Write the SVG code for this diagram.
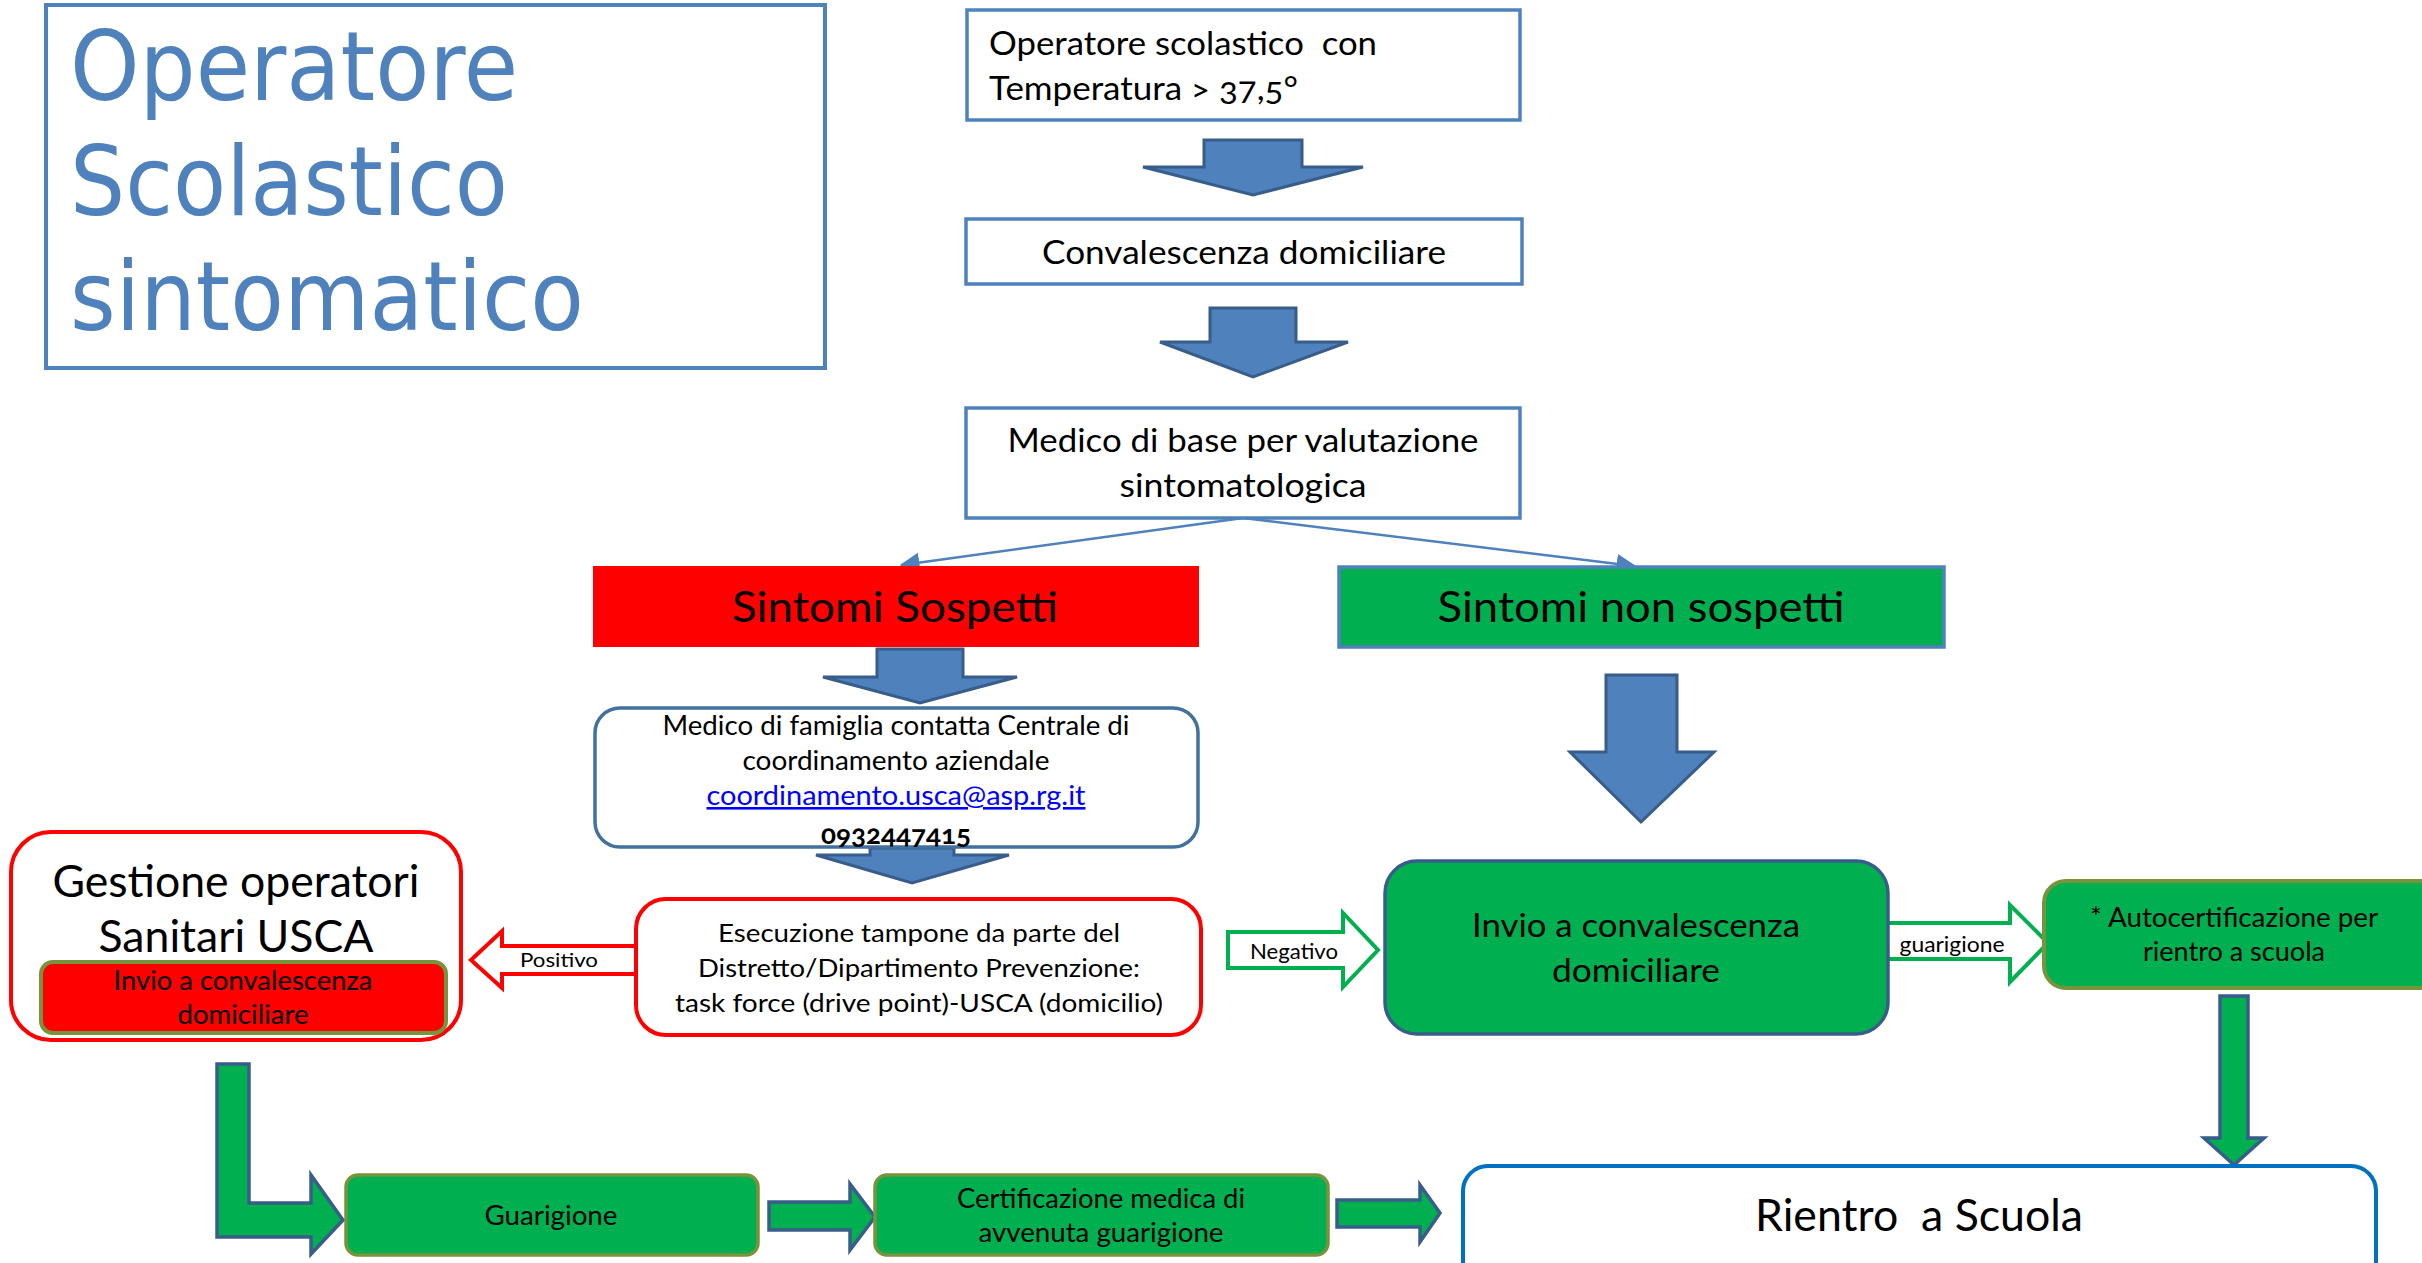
<svg xmlns="http://www.w3.org/2000/svg" width="2422" height="1263" viewBox="0 0 2422 1263">
<style>
.t{font-family:Lato,"Liberation Sans",sans-serif;fill:#000;text-anchor:middle;white-space:pre}
.ts{text-anchor:start}
.title{font-family:"DejaVu Sans",sans-serif;fill:#4f81bd;font-size:96px}
.boxb{fill:#fff;stroke:#4f81bd;stroke-width:3.5}
.barrow{fill:#4f81bd;stroke:#385d8a;stroke-width:3;stroke-linejoin:miter}
.garrow{fill:#00b050;stroke:#385d8a;stroke-width:3.5;stroke-linejoin:miter}
.link{stroke:#4f81bd;stroke-width:2.5;fill:none}
</style>
<defs>
<marker id="ah" markerWidth="8" markerHeight="8" refX="7" refY="4" orient="auto" markerUnits="strokeWidth">
<path d="M0,0 L8,4 L0,8 z" fill="#4f81bd"/>
</marker>
</defs>
<rect width="2422" height="1263" fill="#fff"/>

<g id="connectors">
<line class="link" x1="1243" y1="518" x2="902" y2="565" marker-end="url(#ah)"/>
<line class="link" x1="1243" y1="518" x2="1634" y2="566" marker-end="url(#ah)"/>
<path class="barrow" d="M1204,140 H1302 V167 H1363 L1253,195 L1143,167 H1204 Z"/>
<path class="barrow" d="M1210,308 H1296 V342 H1348 L1253,377 L1160,342 H1210 Z"/>
<path class="barrow" d="M877,649 H963 V677 H1017 L920,703 L823,677 H877 Z"/>
<path class="barrow" d="M870,848 H954 V855 H1009 L912,883 L816,855 H870 Z"/>
<path class="barrow" d="M1606,675 H1677 V752 H1714 L1641,822 L1570,752 H1606 Z"/>
<path class="garrow" d="M2220,996 H2248 V1138 H2264 L2234,1165 L2204,1138 H2220 Z"/>
<path class="garrow" d="M217,1064 H249 V1203 H311 V1175 L343,1220 L311,1254 V1237 H217 Z"/>
<path class="garrow" d="M769,1202 H850 V1184 L875,1217 L850,1250 V1230 H769 Z"/>
<path class="garrow" d="M1337,1200 H1420 V1185 L1440,1213 L1420,1242 V1227 H1337 Z"/>
<g id="positivo">
<path d="M636,946 H502 V931 L471,960 L502,988 V974 H636 Z" fill="#fff" stroke="#ff0000" stroke-width="4"/>
<text class="t" x="559" y="967" font-size="19" textLength="78" lengthAdjust="spacingAndGlyphs">Positivo</text>
</g>
<g id="negativo">
<path d="M1228,932 H1343 V913 L1378,950 L1343,987 V968 H1228 Z" fill="#fff" stroke="#00b050" stroke-width="4"/>
<text class="t" x="1294" y="959" font-size="22" textLength="88" lengthAdjust="spacingAndGlyphs">Negativo</text>
</g>
<g id="guarigione-arrow">
<path d="M1878,923 H2010 V905 L2048,943 L2010,982 V959 H1878 Z" fill="#fff" stroke="#00b050" stroke-width="4"/>
<text class="t" x="1952" y="952" font-size="21" textLength="105" lengthAdjust="spacingAndGlyphs">guarigione</text>
</g>
</g>

<g id="title">
<rect x="46" y="5" width="779" height="363" fill="#fff" stroke="#4f81bd" stroke-width="4"/>
<text class="title" x="70" y="100" textLength="448" lengthAdjust="spacingAndGlyphs">Operatore</text>
<text class="title" x="70" y="215" textLength="438" lengthAdjust="spacingAndGlyphs">Scolastico</text>
<text class="title" x="70" y="330" textLength="514" lengthAdjust="spacingAndGlyphs">sintomatico</text>
</g>

<g id="n-temperatura">
<rect class="boxb" x="967" y="10" width="553" height="110"/>
<text class="t ts" x="989" y="55" font-size="33" textLength="388" lengthAdjust="spacingAndGlyphs">Operatore scolastico  con</text>
<text class="t ts" x="989" y="100" font-size="33" textLength="309" lengthAdjust="spacingAndGlyphs" style="font-variant-numeric:oldstyle-nums">Temperatura &gt; 37,5°</text>
</g>

<g id="n-convalescenza">
<rect class="boxb" x="966" y="219" width="556" height="65"/>
<text class="t" x="1244" y="264" font-size="33" textLength="404" lengthAdjust="spacingAndGlyphs">Convalescenza domiciliare</text>
</g>

<g id="n-medico-base">
<rect class="boxb" x="966" y="408" width="554" height="110"/>
<text class="t" x="1243" y="452" font-size="33" textLength="471" lengthAdjust="spacingAndGlyphs">Medico di base per valutazione</text>
<text class="t" x="1243" y="497" font-size="33" textLength="247" lengthAdjust="spacingAndGlyphs">sintomatologica</text>
</g>

<g id="n-sospetti">
<rect x="593" y="566" width="606" height="81" fill="#ff0000"/>
<text class="t" x="895" y="622" font-size="43" textLength="326" lengthAdjust="spacingAndGlyphs">Sintomi Sospetti</text>
</g>

<g id="n-non-sospetti">
<rect x="1339" y="567" width="605" height="80" fill="#00b050" stroke="#4f81bd" stroke-width="3.5"/>
<text class="t" x="1641" y="622" font-size="43" textLength="407" lengthAdjust="spacingAndGlyphs">Sintomi non sospetti</text>
</g>

<g id="n-medico-famiglia">
<rect x="595" y="708" width="603" height="139" rx="25" fill="#fff" stroke="#41719c" stroke-width="3.5"/>
<text class="t" x="896" y="735" font-size="26" textLength="467" lengthAdjust="spacingAndGlyphs">Medico di famiglia contatta Centrale di</text>
<text class="t" x="896" y="770" font-size="26" textLength="307" lengthAdjust="spacingAndGlyphs">coordinamento aziendale</text>
<text class="t" x="896" y="805" font-size="26" textLength="379" lengthAdjust="spacingAndGlyphs" style="fill:#0000ff;text-decoration:underline">coordinamento.usca@asp.rg.it</text>
<text class="t" x="896" y="844" font-size="26" font-weight="bold" textLength="150" lengthAdjust="spacingAndGlyphs" style="font-variant-numeric:oldstyle-nums">0932447415</text>
</g>

<g id="n-esecuzione">
<rect x="636" y="899" width="565" height="136" rx="30" fill="#fff" stroke="#ff0000" stroke-width="4"/>
<text class="t" x="919" y="942" font-size="25" textLength="402" lengthAdjust="spacingAndGlyphs">Esecuzione tampone da parte del</text>
<text class="t" x="919" y="977" font-size="25" textLength="442" lengthAdjust="spacingAndGlyphs">Distretto/Dipartimento Prevenzione:</text>
<text class="t" x="919" y="1012" font-size="25" textLength="488" lengthAdjust="spacingAndGlyphs">task force (drive point)-USCA (domicilio)</text>
</g>

<g id="n-gestione">
<rect x="11" y="832" width="450" height="208" rx="40" fill="#fff" stroke="#ff0000" stroke-width="4"/>
<text class="t" x="236" y="897" font-size="45" textLength="367" lengthAdjust="spacingAndGlyphs">Gestione operatori</text>
<text class="t" x="236" y="952" font-size="45" textLength="275" lengthAdjust="spacingAndGlyphs">Sanitari USCA</text>
<g id="n-invio-rosso">
<rect x="41" y="962" width="405" height="71" rx="12" fill="#ff0000" stroke="#77933c" stroke-width="4"/>
<text class="t" x="243" y="990" font-size="26" textLength="259" lengthAdjust="spacingAndGlyphs">Invio a convalescenza</text>
<text class="t" x="243" y="1024" font-size="26" textLength="131" lengthAdjust="spacingAndGlyphs">domiciliare</text>
</g>
</g>

<g id="n-invio-verde">
<rect x="1385" y="861" width="503" height="173" rx="32" fill="#00b050" stroke="#385d8a" stroke-width="3.5"/>
<text class="t" x="1636" y="937" font-size="32" textLength="328" lengthAdjust="spacingAndGlyphs">Invio a convalescenza</text>
<text class="t" x="1636" y="982" font-size="32" textLength="168" lengthAdjust="spacingAndGlyphs">domiciliare</text>
</g>

<g id="n-autocert">
<rect x="2044" y="881" width="400" height="107" rx="22" fill="#00b050" stroke="#77933c" stroke-width="4"/>
<text class="t" x="2234" y="927" font-size="26" textLength="288" lengthAdjust="spacingAndGlyphs">* Autocertificazione per</text>
<text class="t" x="2234" y="961" font-size="26" textLength="182" lengthAdjust="spacingAndGlyphs">rientro a scuola</text>
</g>

<g id="n-guarigione">
<rect x="346" y="1175" width="412" height="80" rx="12" fill="#00b050" stroke="#77933c" stroke-width="3.5"/>
<text class="t" x="551" y="1225" font-size="26" textLength="133" lengthAdjust="spacingAndGlyphs">Guarigione</text>
</g>

<g id="n-certificazione">
<rect x="875" y="1175" width="453" height="80" rx="12" fill="#00b050" stroke="#77933c" stroke-width="3.5"/>
<text class="t" x="1101" y="1208" font-size="26" textLength="288" lengthAdjust="spacingAndGlyphs">Certificazione medica di</text>
<text class="t" x="1101" y="1242" font-size="26" textLength="245" lengthAdjust="spacingAndGlyphs">avvenuta guarigione</text>
</g>

<g id="n-rientro">
<rect x="1463" y="1166" width="913" height="130" rx="25" fill="#fff" stroke="#0070c0" stroke-width="4"/>
<text class="t" x="1919" y="1231" font-size="44" textLength="328" lengthAdjust="spacingAndGlyphs">Rientro  a Scuola</text>
</g>
</svg>
